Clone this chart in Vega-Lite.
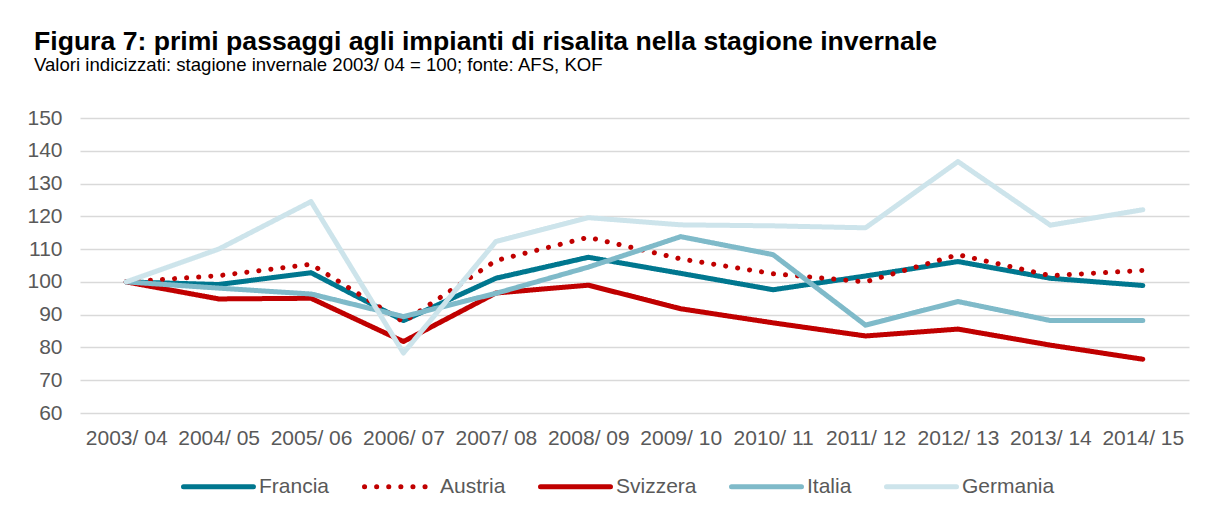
{
  "$schema": "https://vega.github.io/schema/vega-lite/v6.json",
  "width": 1109,
  "height": 295,
  "autosize": {"type": "none"},
  "padding": {"left": 80, "top": 118, "right": 16, "bottom": 100},
  "background": "white",
  "config": {
    "font": "Liberation Sans",
    "view": {"stroke": null}
  },
  "title": {
    "text": "Figura 7: primi passaggi agli impianti di risalita nella stagione invernale",
    "subtitle": "Valori indicizzati: stagione invernale 2003/ 04 = 100; fonte: AFS, KOF",
    "anchor": "start",
    "frame": "group",
    "dx": -46,
    "offset": 32,
    "fontSize": 26.6,
    "fontWeight": "bold",
    "color": "#000000",
    "subtitleFontSize": 18.6,
    "subtitleColor": "#000000",
    "subtitlePadding": 1
  },
  "data": {
    "values": [
      {"season": "2003/ 04", "country": "Francia", "value": 100},
      {"season": "2004/ 05", "country": "Francia", "value": 99.2},
      {"season": "2005/ 06", "country": "Francia", "value": 102.8},
      {"season": "2006/ 07", "country": "Francia", "value": 88.2},
      {"season": "2007/ 08", "country": "Francia", "value": 101.1},
      {"season": "2008/ 09", "country": "Francia", "value": 107.5},
      {"season": "2009/ 10", "country": "Francia", "value": 102.6},
      {"season": "2010/ 11", "country": "Francia", "value": 97.6},
      {"season": "2011/ 12", "country": "Francia", "value": 101.8},
      {"season": "2012/ 13", "country": "Francia", "value": 106.2},
      {"season": "2013/ 14", "country": "Francia", "value": 101.1},
      {"season": "2014/ 15", "country": "Francia", "value": 98.9},
      {"season": "2003/ 04", "country": "Austria", "value": 100},
      {"season": "2004/ 05", "country": "Austria", "value": 101.9},
      {"season": "2005/ 06", "country": "Austria", "value": 105.4},
      {"season": "2006/ 07", "country": "Austria", "value": 87.8},
      {"season": "2007/ 08", "country": "Austria", "value": 106.5},
      {"season": "2008/ 09", "country": "Austria", "value": 113.6},
      {"season": "2009/ 10", "country": "Austria", "value": 107.0},
      {"season": "2010/ 11", "country": "Austria", "value": 102.5},
      {"season": "2011/ 12", "country": "Austria", "value": 100.0},
      {"season": "2012/ 13", "country": "Austria", "value": 108.3},
      {"season": "2013/ 14", "country": "Austria", "value": 101.9},
      {"season": "2014/ 15", "country": "Austria", "value": 103.5},
      {"season": "2003/ 04", "country": "Svizzera", "value": 100},
      {"season": "2004/ 05", "country": "Svizzera", "value": 94.8},
      {"season": "2005/ 06", "country": "Svizzera", "value": 95.0},
      {"season": "2006/ 07", "country": "Svizzera", "value": 81.8},
      {"season": "2007/ 08", "country": "Svizzera", "value": 96.6},
      {"season": "2008/ 09", "country": "Svizzera", "value": 99.0},
      {"season": "2009/ 10", "country": "Svizzera", "value": 91.8},
      {"season": "2010/ 11", "country": "Svizzera", "value": 87.5},
      {"season": "2011/ 12", "country": "Svizzera", "value": 83.5},
      {"season": "2012/ 13", "country": "Svizzera", "value": 85.6},
      {"season": "2013/ 14", "country": "Svizzera", "value": 80.7},
      {"season": "2014/ 15", "country": "Svizzera", "value": 76.4},
      {"season": "2003/ 04", "country": "Italia", "value": 100},
      {"season": "2004/ 05", "country": "Italia", "value": 98.1},
      {"season": "2005/ 06", "country": "Italia", "value": 96.3},
      {"season": "2006/ 07", "country": "Italia", "value": 89.4},
      {"season": "2007/ 08", "country": "Italia", "value": 96.5},
      {"season": "2008/ 09", "country": "Italia", "value": 104.5},
      {"season": "2009/ 10", "country": "Italia", "value": 113.8},
      {"season": "2010/ 11", "country": "Italia", "value": 108.3},
      {"season": "2011/ 12", "country": "Italia", "value": 86.8},
      {"season": "2012/ 13", "country": "Italia", "value": 94.0},
      {"season": "2013/ 14", "country": "Italia", "value": 88.2},
      {"season": "2014/ 15", "country": "Italia", "value": 88.2},
      {"season": "2003/ 04", "country": "Germania", "value": 100},
      {"season": "2004/ 05", "country": "Germania", "value": 110.0},
      {"season": "2005/ 06", "country": "Germania", "value": 124.5},
      {"season": "2006/ 07", "country": "Germania", "value": 78.3},
      {"season": "2007/ 08", "country": "Germania", "value": 112.3},
      {"season": "2008/ 09", "country": "Germania", "value": 119.6},
      {"season": "2009/ 10", "country": "Germania", "value": 117.4},
      {"season": "2010/ 11", "country": "Germania", "value": 117.1},
      {"season": "2011/ 12", "country": "Germania", "value": 116.5},
      {"season": "2012/ 13", "country": "Germania", "value": 136.7},
      {"season": "2013/ 14", "country": "Germania", "value": 117.3},
      {"season": "2014/ 15", "country": "Germania", "value": 122.0}
    ]
  },
  "mark": {"type": "line", "strokeWidth": 5, "strokeCap": "round", "strokeJoin": "round"},
  "encoding": {
    "x": {
      "field": "season",
      "type": "ordinal",
      "sort": null,
      "scale": {"type": "point", "padding": 0.5},
      "axis": {
        "title": null,
        "labelAngle": 0,
        "domain": false,
        "ticks": false,
        "grid": false,
        "labelPadding": 14,
        "labelFontSize": 21,
        "labelColor": "#595959"
      }
    },
    "y": {
      "field": "value",
      "type": "quantitative",
      "scale": {"domain": [60, 150], "nice": false, "zero": false},
      "axis": {
        "title": null,
        "values": [60, 70, 80, 90, 100, 110, 120, 130, 140, 150],
        "domain": false,
        "ticks": false,
        "grid": true,
        "gridColor": "#D9D9D9",
        "gridWidth": 1.5,
        "labelPadding": 18,
        "labelFontSize": 21,
        "labelColor": "#595959"
      }
    },
    "color": {
      "field": "country",
      "type": "nominal",
      "scale": {
        "domain": ["Francia", "Austria", "Svizzera", "Italia", "Germania"],
        "range": ["#00778F", "#C00000", "#C00000", "#7FBAC9", "#CDE4EB"]
      },
      "legend": {
        "title": null,
        "orient": "none",
        "legendX": 101,
        "legendY": 331,
        "direction": "horizontal",
        "symbolType": "stroke",
        "symbolSize": 4900,
        "symbolStrokeWidth": 5,
        "labelFontSize": 21,
        "labelColor": "#595959",
        "labelOffset": 3,
        "columnPadding": 24,
        "encode": {"symbols": {"update": {"strokeCap": {"value": "round"}}}}
      }
    },
    "strokeDash": {
      "field": "country",
      "type": "nominal",
      "scale": {
        "domain": ["Francia", "Austria", "Svizzera", "Italia", "Germania"],
        "range": [[1, 0], [0.1, 12], [1, 0], [1, 0], [1, 0]]
      },
      "legend": {
        "title": null,
        "orient": "none",
        "legendX": 101,
        "legendY": 331,
        "direction": "horizontal",
        "symbolType": "stroke",
        "symbolSize": 4900,
        "symbolStrokeWidth": 5,
        "labelFontSize": 21,
        "labelColor": "#595959",
        "labelOffset": 3,
        "columnPadding": 24,
        "encode": {"symbols": {"update": {"strokeCap": {"value": "round"}}}}
      }
    }
  }
}
